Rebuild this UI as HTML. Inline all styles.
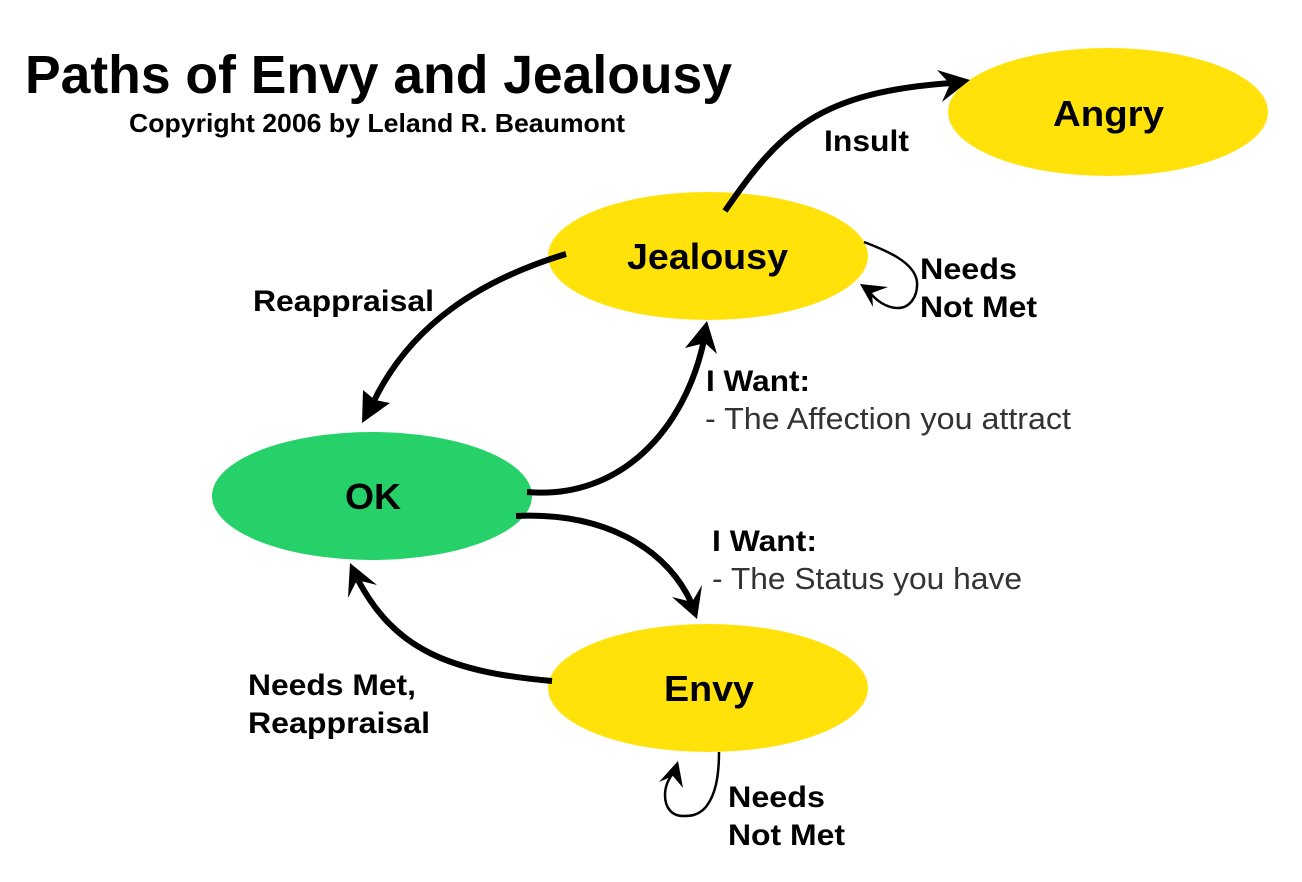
<!DOCTYPE html>
<html>
<head>
<meta charset="utf-8">
<style>
html,body{margin:0;padding:0;background:#fff;}
svg{display:block;}
text{font-family:"Liberation Sans",Arial,sans-serif;fill:#000;}
.b{font-weight:bold;font-size:30px;}
.n{font-weight:bold;font-size:36px;}
.l{font-size:31px;fill:#333;}
</style>
</head>
<body>
<svg width="1302" height="882" viewBox="0 0 1302 882" xmlns="http://www.w3.org/2000/svg">
<rect width="1302" height="882" fill="#fff"/>
<ellipse cx="1108" cy="112" rx="160" ry="64" fill="#ffe209"/>
<ellipse cx="708" cy="256" rx="160" ry="64" fill="#ffe209"/>
<ellipse cx="708" cy="688" rx="160" ry="64" fill="#ffe209"/>
<ellipse cx="372" cy="496" rx="160" ry="64" fill="#26d169"/>

<text x="25" y="93" style="font-weight:bold;font-size:54px" textLength="707" lengthAdjust="spacingAndGlyphs">Paths of Envy and Jealousy</text>
<text x="129" y="132" style="font-weight:bold;font-size:26px" textLength="496" lengthAdjust="spacingAndGlyphs">Copyright 2006 by Leland R. Beaumont</text>
<text x="1053" y="126" class="n" textLength="111" lengthAdjust="spacingAndGlyphs">Angry</text>
<text x="627" y="269" class="n" textLength="161" lengthAdjust="spacingAndGlyphs">Jealousy</text>
<text x="345" y="509" class="n" textLength="56" lengthAdjust="spacingAndGlyphs">OK</text>
<text x="664" y="701" class="n" textLength="90" lengthAdjust="spacingAndGlyphs">Envy</text>

<g fill="none" stroke="#000" stroke-width="6">
<path d="M725 211 C780 130 820 92 952 83"/>
<path d="M566 254 C480 280 410 325 373 403"/>
<path d="M527 492 C620 500 685 430 704 340"/>
<path d="M516 516 C600 512 665 545 692 604"/>
<path d="M552 681 C450 672 395 650 358 580"/>
</g>
<g fill="#000">
<polygon points="970,80 937,70 950,84 942,102"/>
<polygon points="362,423 363,390 375,400 390,403"/>
<polygon points="707,321 685,348 705,343 717,354"/>
<polygon points="697,619 672,597 692,602 702,585"/>
<polygon points="350,563 348,598 357,580 377,585"/>
<polygon points="860,284 888,287 872,293 873,307"/>
<polygon points="678,761 659,782 673,776 683,788"/>
</g>
<g fill="none" stroke="#000" stroke-width="2.5">
<path d="M864 242 C885 250 915 262 917 282 C918 296 910 308 898 308 C886 308 875 300 868 290"/>
<path d="M719 752 C719 775 716 795 705 808 C697 816 690 816 683 816 C672 816 665 808 665 795 C665 785 669 778 674 772"/>
</g>

<text x="824" y="151" class="b" textLength="85" lengthAdjust="spacingAndGlyphs">Insult</text>
<text x="920" y="279" class="b" textLength="97" lengthAdjust="spacingAndGlyphs">Needs</text>
<text x="920" y="317" class="b" textLength="117" lengthAdjust="spacingAndGlyphs">Not Met</text>
<text x="253" y="311" class="b" textLength="181" lengthAdjust="spacingAndGlyphs">Reappraisal</text>
<text x="706" y="391" class="b" textLength="104" lengthAdjust="spacingAndGlyphs">I Want:</text>
<text x="705" y="429" class="l" textLength="366" lengthAdjust="spacingAndGlyphs">- The Affection you attract</text>
<text x="712" y="551" class="b" textLength="105" lengthAdjust="spacingAndGlyphs">I Want:</text>
<text x="712" y="589" class="l" textLength="310" lengthAdjust="spacingAndGlyphs">- The Status you have</text>
<text x="248" y="695" class="b" textLength="168" lengthAdjust="spacingAndGlyphs">Needs Met,</text>
<text x="248" y="733" class="b" textLength="182" lengthAdjust="spacingAndGlyphs">Reappraisal</text>
<text x="728" y="807" class="b" textLength="97" lengthAdjust="spacingAndGlyphs">Needs</text>
<text x="728" y="845" class="b" textLength="117" lengthAdjust="spacingAndGlyphs">Not Met</text>
</svg>
</body>
</html>
